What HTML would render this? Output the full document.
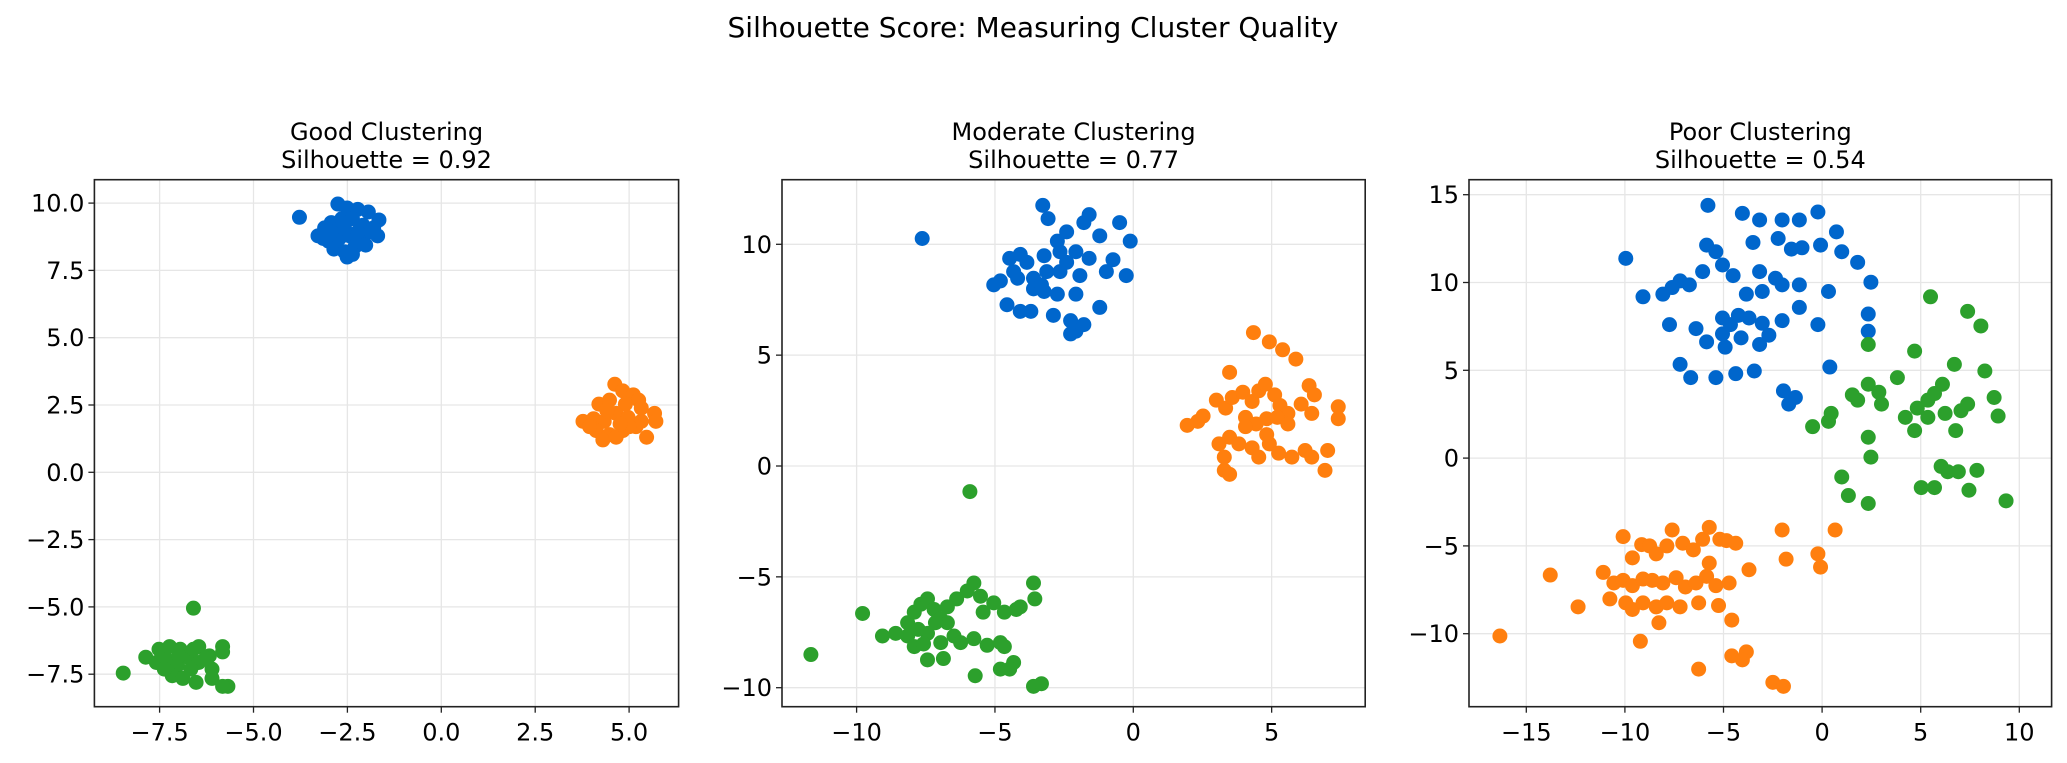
<!DOCTYPE html>
<html><head><meta charset="utf-8"><style>
body{margin:0;background:#fff}
svg{display:block;font-family:"DejaVu Sans","Liberation Sans",sans-serif}
</style></head><body>
<svg id="s" width="2067" height="763" viewBox="0 0 2067 763" xmlns="http://www.w3.org/2000/svg">
<rect width="2067" height="763" fill="#fff"/>
<text x="1033" y="37" font-size="28" text-anchor="middle">Silhouette Score: Measuring Cluster Quality</text>
</svg>
<script>
const S=document.getElementById('s');const NS='http://www.w3.org/2000/svg';
function el(t,a,txt){const e=document.createElementNS(NS,t);for(const k in a)e.setAttribute(k,a[k]);if(txt!==undefined)e.textContent=txt;S.appendChild(e);return e;}
const K=2067/1560, T=179.7, B=706.7;
const panels=[
 {L:94.4,R:678.6,x0:441.3,xs:37.56,y0:472.3,ys:26.92,xt:[-7.5,-5,-2.5,0,2.5,5],yt:[10,7.5,5,2.5,0,-2.5,-5,-7.5],dec:1,t1:"Good Clustering",t2:"Silhouette = 0.92"},
 {L:782,R:1365.2,x0:1133.3,xs:27.67,y0:466,ys:22.17,xt:[-10,-5,0,5],yt:[10,5,0,-5,-10],dec:0,t1:"Moderate Clustering",t2:"Silhouette = 0.77"},
 {L:1469,R:2051.6,x0:1822.1,xs:19.72,y0:458.1,ys:17.56,xt:[-15,-10,-5,0,5,10],yt:[15,10,5,0,-5,-10],dec:0,t1:"Poor Clustering",t2:"Silhouette = 0.54"}];
function fmt(v,d){let s=v.toFixed(d);if(v<0)s='\u2212'+s.slice(1);return s;}
const pts=[
 {b:[[226,164],[255,154],[262,157],[270,158],[278,160],[286,166],[240,178],[245,172],[250,168],[258,165],[266,165],[274,170],[282,172],[285,178],[248,182],[256,180],[264,178],[272,182],[280,175],[252,188],[260,190],[268,186],[262,194],[244,180],[254,174],[270,175],[260,172],[276,185],[266,192],[250,175]],
  o:[[464,290],[470,295],[478,298],[452,305],[460,302],[472,305],[482,302],[440,318],[448,316],[456,318],[465,312],[474,315],[484,318],[494,312],[495,318],[450,325],[460,328],[470,325],[480,322],[488,330],[455,332],[465,330],[458,310],[475,322],[445,322],[468,320],[484,308]],
  g:[[93,508],[110,496],[120,490],[128,488],[136,490],[146,459],[150,488],[158,495],[168,488],[168,492],[118,500],[126,498],[134,502],[142,496],[150,500],[160,505],[130,510],[138,512],[148,515],[160,512],[172,518],[168,518],[124,505],[144,505],[155,497],[135,495],[146,490]]},
 {b:[[696,180],[787,155],[805,175],[818,168],[830,178],[798,182],[853,182],[775,198],[788,193],[800,190],[812,190],[822,195],[762,195],[770,192],[750,215],[755,212],[780,210],[790,205],[800,205],[815,208],[835,205],[850,208],[780,218],[788,220],[798,222],[812,222],[760,230],[770,235],[778,235],[795,238],[808,242],[830,232],[818,245],[812,250],[808,252],[768,210],[786,215],[805,198],[840,196],[765,205],[791,165],[822,162],[845,168]],
  o:[[946,251],[958,258],[968,264],[978,271],[988,291],[992,298],[928,281],[896,321],[904,318],[908,314],[918,302],[925,308],[930,300],[938,296],[945,303],[950,295],[955,290],[962,298],[966,306],[972,312],[982,305],[990,312],[1010,307],[1010,316],[940,315],[948,320],[956,316],[964,315],[972,320],[920,335],[928,330],[924,345],[935,335],[945,338],[950,345],[958,335],[965,342],[975,345],[985,340],[990,345],[1000,355],[1002,340],[924,355],[928,358],[940,322],[956,328]],
  g:[[612,494],[651,463],[666,480],[676,478],[685,470],[690,462],[695,456],[700,452],[705,460],[710,467],[715,470],[722,452],[730,446],[735,440],[732,371],[740,450],[750,455],[758,462],[770,458],[780,440],[781,452],[685,480],[690,488],[700,478],[710,485],[720,480],[712,497],[700,498],[725,485],[735,482],[745,487],[755,485],[767,460],[758,488],[765,500],[762,505],[755,505],[736,510],[780,518],[786,516],[693,475],[715,458],[742,462],[706,470],[697,486]]},
 {b:[[1289,155],[1227,195],[1315,161],[1328,166],[1345,166],[1358,166],[1372,160],[1390,190],[1402,198],[1386,175],[1288,185],[1295,190],[1323,183],[1342,180],[1352,188],[1360,187],[1374,185],[1412,213],[1328,205],[1340,210],[1240,224],[1255,222],[1262,217],[1268,212],[1275,215],[1285,205],[1300,200],[1308,208],[1318,222],[1330,220],[1345,215],[1358,215],[1380,220],[1410,237],[1300,240],[1306,245],[1312,238],[1320,240],[1330,244],[1345,242],[1358,232],[1372,245],[1280,248],[1288,258],[1302,262],[1314,255],[1328,260],[1268,275],[1276,285],[1295,285],[1310,282],[1324,280],[1346,295],[1355,300],[1350,305],[1381,277],[1410,250],[1300,252],[1260,245],[1335,253]],
  o:[[1225,405],[1232,421],[1239,411],[1245,412],[1250,418],[1258,412],[1262,400],[1270,410],[1278,415],[1285,407],[1290,398],[1298,407],[1303,408],[1310,410],[1170,434],[1191,458],[1210,432],[1218,440],[1225,438],[1232,442],[1240,437],[1247,438],[1255,440],[1265,436],[1272,443],[1280,440],[1288,435],[1295,442],[1305,440],[1320,430],[1348,422],[1345,400],[1215,452],[1227,455],[1232,460],[1240,455],[1250,458],[1258,455],[1268,458],[1282,455],[1297,457],[1307,468],[1132,480],[1238,484],[1252,470],[1282,505],[1307,495],[1318,492],[1338,515],[1346,518],[1315,498],[1290,425],[1372,418],[1385,400],[1374,428]],
  g:[[1457,224],[1485,235],[1495,246],[1410,260],[1445,265],[1475,275],[1466,290],[1498,280],[1432,285],[1398,298],[1402,302],[1410,290],[1420,305],[1438,315],[1447,308],[1455,302],[1460,297],[1468,312],[1480,310],[1485,305],[1476,325],[1505,300],[1508,314],[1368,322],[1380,318],[1382,312],[1410,330],[1412,345],[1390,360],[1395,374],[1410,380],[1445,325],[1465,352],[1460,368],[1470,356],[1478,356],[1486,370],[1492,355],[1514,378],[1450,368],[1455,315],[1418,296]]}];
const col={b:'#0066cc',o:'#ff7f0e',g:'#2ca02c'};
panels.forEach((p,i)=>{
 const cx=(p.L+p.R)/2;
 el('text',{x:cx,y:140,'font-size':24,'text-anchor':'middle'},p.t1);
 el('text',{x:cx,y:168,'font-size':24,'text-anchor':'middle'},p.t2);
 p.xt.forEach(v=>{const x=p.x0+p.xs*v;
  el('line',{x1:x,x2:x,y1:T,y2:B,stroke:'#e6e6e6','stroke-width':1.3});
  el('line',{x1:x,x2:x,y1:B,y2:B+6,stroke:'#222','stroke-width':1.3});
  el('text',{x:x,y:B+34,'font-size':24,'text-anchor':'middle'},fmt(v,p.dec));});
 p.yt.forEach(v=>{const y=p.y0-p.ys*v;
  el('line',{x1:p.L,x2:p.R,y1:y,y2:y,stroke:'#e6e6e6','stroke-width':1.3});
  el('line',{x1:p.L-6,x2:p.L,y1:y,y2:y,stroke:'#222','stroke-width':1.3});
  el('text',{x:p.L-10,y:y+8.5,'font-size':24,'text-anchor':'end'},fmt(v,p.dec));});
 ['b','o','g'].forEach(k=>pts[i][k].forEach(q=>el('circle',{cx:q[0]*K,cy:q[1]*K,r:7.5,fill:col[k]})));
 el('rect',{x:p.L,y:T,width:p.R-p.L,height:B-T,fill:'none',stroke:'#222','stroke-width':1.6});
});
</script>
</body></html>
